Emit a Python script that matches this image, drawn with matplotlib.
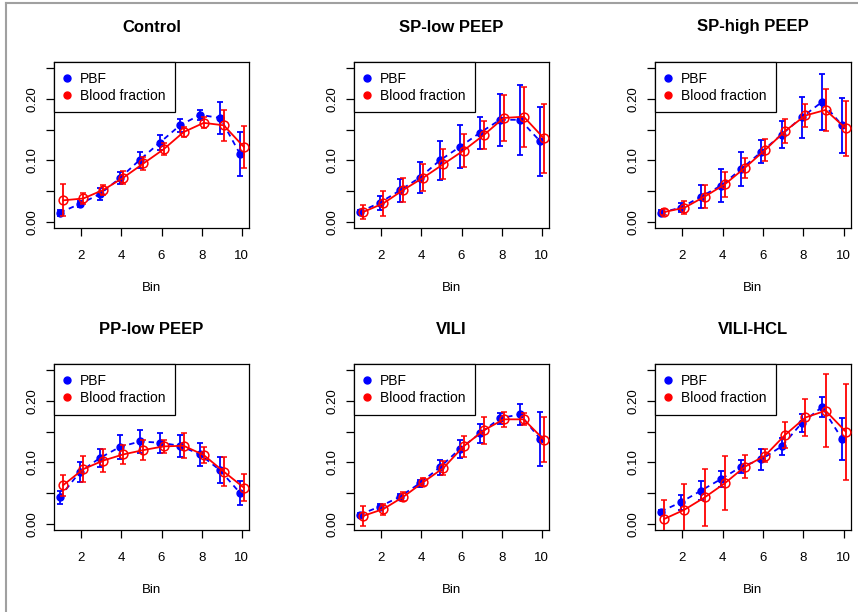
import matplotlib
matplotlib.use("Agg")
import matplotlib.pyplot as plt
from matplotlib.lines import Line2D
import numpy as np

# ---------------------------------------------------------------------------
# Data (mean +/- error per bin)
# ---------------------------------------------------------------------------
BINS = list(range(1, 11))
TITLES = ["Control", "SP-low PEEP", "SP-high PEEP", "PP-low PEEP", "VILI", "VILI-HCL"]

PBF_MEAN = [
    [0.015, 0.029, 0.045, 0.071, 0.101, 0.129, 0.157, 0.174, 0.169, 0.110],
    [0.016, 0.031, 0.051, 0.072, 0.100, 0.122, 0.145, 0.166, 0.166, 0.131],
    [0.015, 0.023, 0.041, 0.059, 0.086, 0.114, 0.142, 0.170, 0.195, 0.157],
    [0.043, 0.084, 0.107, 0.125, 0.134, 0.132, 0.127, 0.113, 0.087, 0.050],
    [0.015, 0.028, 0.044, 0.066, 0.092, 0.122, 0.147, 0.172, 0.178, 0.138],
    [0.020, 0.035, 0.054, 0.073, 0.093, 0.105, 0.126, 0.164, 0.190, 0.138],
]
PBF_ERR = [
    [0.005, 0.005, 0.010, 0.010, 0.013, 0.012, 0.011, 0.008, 0.026, 0.036],
    [0.004, 0.011, 0.018, 0.025, 0.032, 0.035, 0.026, 0.042, 0.057, 0.056],
    [0.004, 0.007, 0.019, 0.027, 0.027, 0.019, 0.022, 0.033, 0.046, 0.045],
    [0.011, 0.016, 0.014, 0.019, 0.019, 0.016, 0.018, 0.019, 0.021, 0.020],
    [0.003, 0.005, 0.005, 0.006, 0.012, 0.015, 0.016, 0.009, 0.017, 0.044],
    [0.002, 0.012, 0.015, 0.013, 0.011, 0.017, 0.014, 0.015, 0.016, 0.034],
]
BF_MEAN = [
    [0.035, 0.038, 0.052, 0.072, 0.095, 0.118, 0.146, 0.161, 0.157, 0.122],
    [0.016, 0.030, 0.052, 0.072, 0.094, 0.116, 0.141, 0.169, 0.171, 0.136],
    [0.016, 0.023, 0.041, 0.061, 0.088, 0.117, 0.148, 0.173, 0.182, 0.152],
    [0.063, 0.089, 0.103, 0.113, 0.120, 0.126, 0.127, 0.112, 0.085, 0.059],
    [0.013, 0.024, 0.044, 0.068, 0.091, 0.126, 0.152, 0.170, 0.170, 0.137],
    [0.008, 0.023, 0.043, 0.066, 0.093, 0.111, 0.145, 0.173, 0.184, 0.150],
]
BF_ERR = [
    [0.026, 0.009, 0.008, 0.010, 0.010, 0.010, 0.008, 0.009, 0.025, 0.034],
    [0.011, 0.020, 0.020, 0.022, 0.024, 0.027, 0.023, 0.037, 0.049, 0.056],
    [0.005, 0.011, 0.019, 0.020, 0.016, 0.018, 0.020, 0.019, 0.034, 0.045],
    [0.017, 0.021, 0.019, 0.016, 0.016, 0.010, 0.020, 0.013, 0.023, 0.022],
    [0.016, 0.009, 0.007, 0.006, 0.011, 0.017, 0.022, 0.012, 0.010, 0.036],
    [0.031, 0.042, 0.047, 0.044, 0.019, 0.011, 0.021, 0.030, 0.059, 0.078],
]

W, H = 858, 612
plt.rcParams["font.family"] = ["Liberation Sans", "DejaVu Sans"]

fig = plt.figure(figsize=(W / 100, H / 100), dpi=100)

# panel boxes in pixels: (left, right) and (top, bottom)
cols = [(54, 249), (354, 549), (655, 851)]
rows = [(62, 228), (364, 530)]

x = np.array(BINS, dtype=float)

for i, title in enumerate(TITLES):
    (l, r), (t, b) = cols[i % 3], rows[i // 3]
    ax = fig.add_axes([l / W, 1 - b / H, (r - l) / W, (b - t) / H])
    ph = b - t

    ax.errorbar(x - 0.08, PBF_MEAN[i], yerr=PBF_ERR[i], color="#0000ff",
                marker="o", markersize=5, ls=(0, (3, 2.5)), lw=1.3,
                elinewidth=1.3, capsize=2, capthick=1.3, zorder=2)
    ax.errorbar(x + 0.1, BF_MEAN[i], yerr=BF_ERR[i], color="#ff0000",
                marker="o", markersize=6.3, mfc="none", mew=1.1, ls="-", lw=1.3,
                elinewidth=1.3, capsize=2, capthick=1.3, zorder=3)

    ax.set_xlim(0.64, 10.36)
    ax.set_ylim(-0.01, 0.26)
    ax.set_xticks([2, 4, 6, 8, 10])
    ax.set_yticks([0, 0.05, 0.10, 0.15, 0.20, 0.25])
    ax.set_yticklabels(["0.00", "", "0.10", "", "0.20", ""],
                       rotation=90, va="center")
    ax.tick_params(direction="out", length=6, width=0.9, labelsize=9.5)
    ax.tick_params(axis="x", pad=10)
    ax.tick_params(axis="y", pad=5)
    for s in ax.spines.values():
        s.set_linewidth(0.9)

    ax.text(0.5, 1 + 35 / ph, title, transform=ax.transAxes, ha="center",
            va="center", fontsize=12, fontweight="bold")
    ax.text(0.5, -60 / ph, "Bin", transform=ax.transAxes, ha="center",
            va="center", fontsize=9.5)

    handles = [
        Line2D([], [], ls="none", marker="o", color="#0000ff", markersize=5),
        Line2D([], [], ls="none", marker="o", color="#ff0000", markersize=5),
    ]
    leg = ax.legend(handles, ["PBF", "Blood fraction"], loc="upper left",
                    bbox_to_anchor=(0, 1), borderaxespad=0, fontsize=10,
                    fancybox=False, framealpha=1, edgecolor="black",
                    borderpad=0.7, handlelength=0.5, handletextpad=0.68,
                    labelspacing=0.22)
    leg.get_frame().set_linewidth(0.9)
    leg.set_zorder(5)

# grey frame of the original figure
fig.add_artist(Line2D([6 / W, 6 / W], [0, 1 - 3 / H], color="#a0a0a0", lw=1.5))
fig.add_artist(Line2D([6 / W, 1], [1 - 3 / H, 1 - 3 / H], color="#a0a0a0", lw=1.5))

fig.savefig("out.png", dpi=100)
